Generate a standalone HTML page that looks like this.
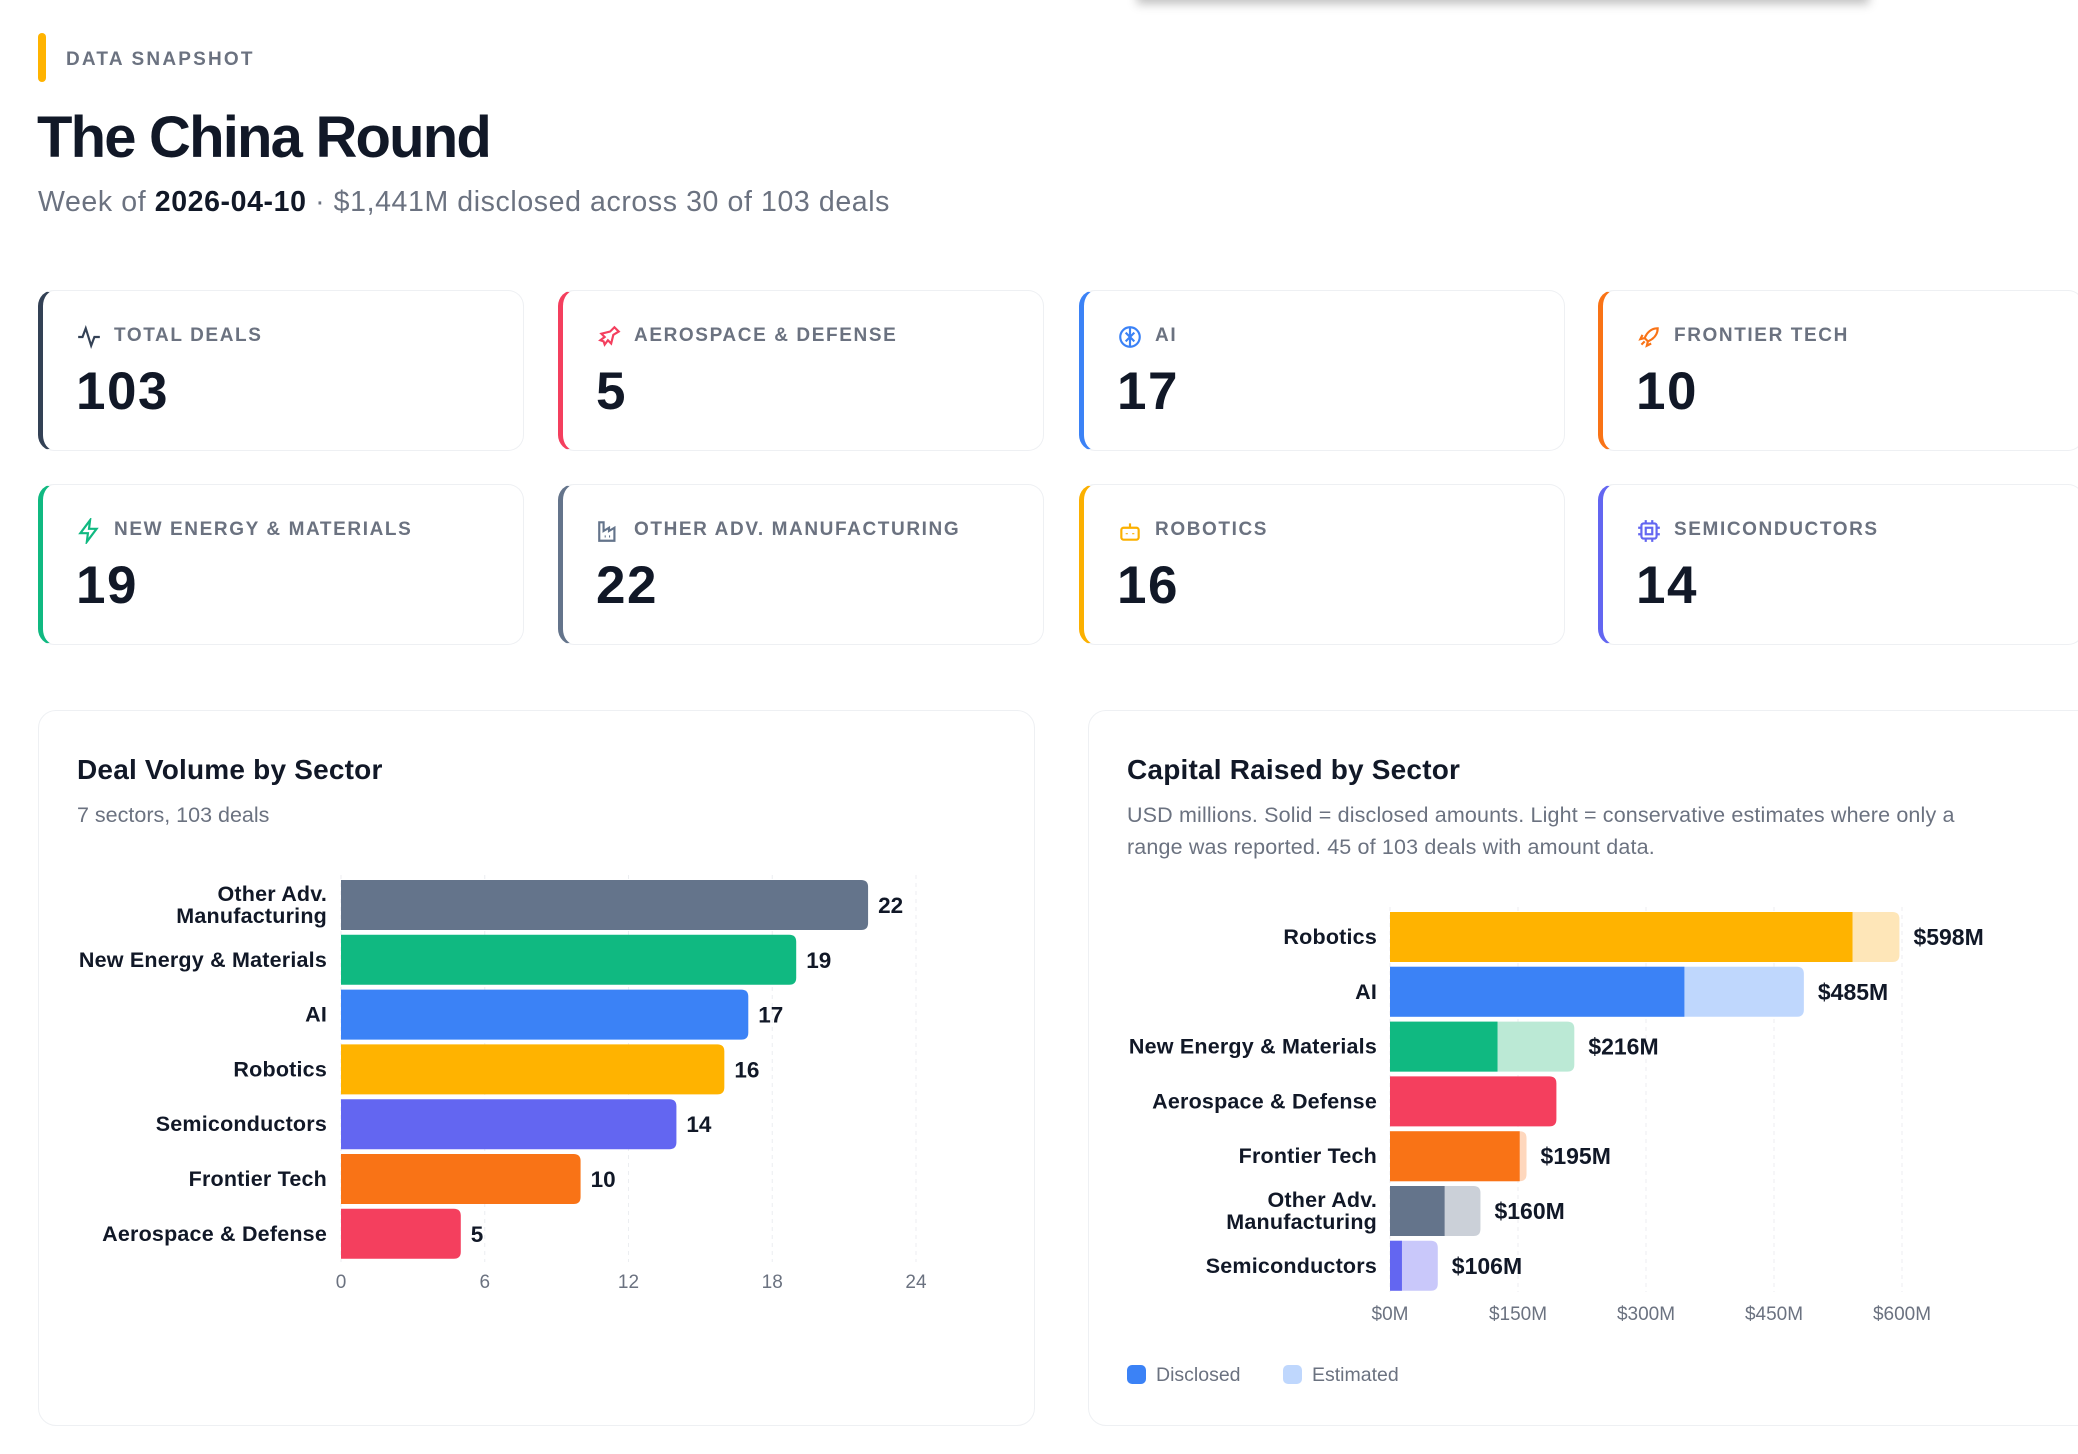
<!DOCTYPE html>
<html><head><meta charset="utf-8"><style>
*{box-sizing:border-box;margin:0;padding:0}
body{width:2078px;height:1454px;overflow:hidden;background:#fff;font-family:"Liberation Sans",sans-serif;color:#111827;position:relative}
.abs{position:absolute}
.card{position:absolute;width:486px;height:161px;border:1px solid #eef0f3;border-left:5px solid;border-radius:16px;background:#fff}
.card .lab{position:absolute;left:71px;top:34px;font-size:19px;font-weight:700;letter-spacing:1.6px;color:#6b7280;white-space:nowrap}
.card svg{position:absolute;left:33px;top:33px}
.card .num{position:absolute;left:33px;top:70px;font-size:53px;font-weight:700;color:#111827;letter-spacing:1.5px}
.panel{position:absolute;border:1px solid #eef0f3;border-radius:18px;background:#fff}
.ptitle{position:absolute;font-size:28px;font-weight:700;color:#111827}
.psub{position:absolute;font-size:21.5px;color:#6b7280;line-height:32px}
</style></head><body>
<div class="abs" style="left:1137px;top:-30px;width:732px;height:30px;box-shadow:0 4px 10px rgba(0,0,0,0.25);background:#fff"></div>
<div class="abs" style="left:38px;top:33px;width:8px;height:49px;background:#ffb300;border-radius:4px"></div>
<div class="abs" style="left:66px;top:49px;font-size:19px;font-weight:700;letter-spacing:2.2px;color:#6b7280">DATA SNAPSHOT</div>
<div class="abs" style="left:37px;top:104px;font-size:58px;font-weight:700;letter-spacing:-1.8px;color:#111827">The China Round</div>
<div class="abs" style="left:38px;top:186px;font-size:28.5px;color:#6b7280;letter-spacing:0.6px">Week of <b style="color:#111827">2026-04-10</b> · $1,441M disclosed across 30 of 103 deals</div>

<div class="card" style="left:38px;top:290px;border-left-color:#334155"><svg width="26" height="26" viewBox="0 0 24 24" fill="none" stroke="#334155" stroke-width="2"><path d="M2 12h4l3-8 5 16 3-8h5"/></svg><div class="lab">TOTAL DEALS</div><div class="num">103</div></div>
<div class="card" style="left:558px;top:290px;border-left-color:#f43f5e"><svg width="26" height="26" viewBox="0 0 24 24" fill="none" stroke="#f43f5e" stroke-width="2"><path d="M17 3l4 4-5 3-2 8-3-3-3 4-1-3-3-1 4-3-3-3 8-2z"/></svg><div class="lab">AEROSPACE &amp; DEFENSE</div><div class="num">5</div></div>
<div class="card" style="left:1079px;top:290px;border-left-color:#3b82f6"><svg width="26" height="26" viewBox="0 0 24 24" fill="none" stroke="#3b82f6" stroke-width="2"><circle cx="12" cy="12" r="9"/><path d="M12 3v18M8 8l4 4 4-4M8 16l4-4 4 4"/></svg><div class="lab">AI</div><div class="num">17</div></div>
<div class="card" style="left:1598px;top:290px;border-left-color:#f97316"><svg width="26" height="26" viewBox="0 0 24 24" fill="none" stroke="#f97316" stroke-width="2"><path d="M20 4c-6 0-10 4-12 9l3 3c5-2 9-6 9-12zM8 13l-4 1 2-4M11 16l-1 4 4-2M5 19l3-3"/></svg><div class="lab">FRONTIER TECH</div><div class="num">10</div></div>
<div class="card" style="left:38px;top:484px;border-left-color:#10b981"><svg width="26" height="26" viewBox="0 0 24 24" fill="none" stroke="#10b981" stroke-width="2"><path d="M13 2L4 14h7l-1 8 9-12h-7z"/></svg><div class="lab">NEW ENERGY &amp; MATERIALS</div><div class="num">19</div></div>
<div class="card" style="left:558px;top:484px;border-left-color:#64748b"><svg width="26" height="26" viewBox="0 0 24 24" fill="none" stroke="#64748b" stroke-width="2"><path d="M3 21V4h4v8l5-3v3l5-3v12zM8 17h1M12 17h1M16 17h1"/></svg><div class="lab">OTHER ADV. MANUFACTURING</div><div class="num">22</div></div>
<div class="card" style="left:1079px;top:484px;border-left-color:#fbb000"><svg width="26" height="26" viewBox="0 0 24 24" fill="none" stroke="#fbb000" stroke-width="2"><rect x="4" y="9" width="16" height="11" rx="2"/><path d="M12 9V5M9 14v1M15 14v1"/></svg><div class="lab">ROBOTICS</div><div class="num">16</div></div>
<div class="card" style="left:1598px;top:484px;border-left-color:#6366f1"><svg width="26" height="26" viewBox="0 0 24 24" fill="none" stroke="#6366f1" stroke-width="2"><rect x="5" y="5" width="14" height="14" rx="2"/><rect x="9" y="9" width="6" height="6"/><path d="M9 2v3M15 2v3M9 19v3M15 19v3M2 9h3M2 15h3M19 9h3M19 15h3"/></svg><div class="lab">SEMICONDUCTORS</div><div class="num">14</div></div>

<div class="panel" style="left:38px;top:710px;width:997px;height:716px"></div>
<div class="ptitle" style="left:77px;top:754px;letter-spacing:0.2px">Deal Volume by Sector</div>
<div class="psub" style="left:77px;top:799px">7 sectors, 103 deals</div>

<div class="panel" style="left:1088px;top:710px;width:1010px;height:716px"></div>
<div class="ptitle" style="left:1127px;top:754px;letter-spacing:0.2px">Capital Raised by Sector</div>
<div class="psub" style="left:1127px;top:799px;width:880px;letter-spacing:0.15px">USD millions. Solid = disclosed amounts. Light = conservative estimates where only a range was reported. 45 of 103 deals with amount data.</div>
<div class="abs" style="left:1127px;top:1364px;font-size:19.5px;color:#6b7280"><span style="display:inline-block;width:19px;height:19px;border-radius:5px;background:#3b82f6;vertical-align:-3px;margin-right:10px"></span>Disclosed</div>
<div class="abs" style="left:1283px;top:1364px;font-size:19.5px;color:#6b7280"><span style="display:inline-block;width:19px;height:19px;border-radius:5px;background:#bfd7fd;vertical-align:-3px;margin-right:10px"></span>Estimated</div>

<svg id="c1" class="abs" style="left:0;top:0" width="2078" height="1454"></svg>
<script>
const volCats=["Other Adv.|Manufacturing","New Energy & Materials","AI","Robotics","Semiconductors","Frontier Tech","Aerospace & Defense"];
const volVals=[22,19,17,16,14,10,5];
const volColors=["#64748b","#10b981","#3b82f6","#ffb300","#6366f1","#f97316","#f43f5e"];
const volTicks=[0,6,12,18,24];
const capCats=["Robotics","AI","New Energy & Materials","Aerospace & Defense","Frontier Tech","Other Adv.|Manufacturing","Semiconductors"];
const capDisclosed=[542,345,126,195,152,64,14];
const capEstimated=[55,140,90,0,8,42,42];
const capLabels=["$598M","$485M","$216M","","$195M","$160M","$106M"];
const capColors=["#ffb300","#3b82f6","#10b981","#f43f5e","#f97316","#64748b","#6366f1"];
const capLight=["#fee6b8","#bfd7fd","#bbe9d5","#fbc8d2","#fed7bd","#cbd0d8","#c9c8fa"];
const capTicks=[0,150,300,450,600];
const capTickLabels=["$0M","$150M","$300M","$450M","$600M"];
const NS="http://www.w3.org/2000/svg";
const svg=document.getElementById('c1');
function mk(t,a){const e=document.createElementNS(NS,t);for(const k in a)e.setAttribute(k,a[k]);svg.appendChild(e);return e;}
function barPath(x,y,w,h,r){r=Math.min(r,w);return `M${x},${y}H${x+w-r}Q${x+w},${y} ${x+w},${y+r}V${y+h-r}Q${x+w},${y+h} ${x+w-r},${y+h}H${x}Z`;}
function catLabel(txt,x,cy,name){const parts=txt.split('|');const t=mk('text',{x:x,y:cy+7-(parts.length-1)*11,'text-anchor':'end','font-size':21.5,'font-weight':700,fill:'#111827','letter-spacing':0.2});


parts.forEach((p,i)=>{const s=document.createElementNS(NS,'tspan');s.setAttribute('x',x);if(i>0)s.setAttribute('dy',22);s.textContent=p;t.appendChild(s);});}
// chart 1
const x1=v=>341+v*(916-341)/24, y1=i=>905+i*54.8, bh=50;
volTicks.forEach(v=>{const l=mk('line',{x1:x1(v),x2:x1(v),y1:875,y2:1262,stroke:'#eceef1','stroke-dasharray':'4 4'});


const t=mk('text',{x:x1(v),y:1288,'text-anchor':'middle','font-size':19,fill:'#6b7280'});t.textContent=v;

});
volVals.forEach((v,i)=>{const cy=y1(i);const p=mk('path',{d:barPath(x1(0),cy-bh/2,x1(v)-x1(0),bh,7),fill:volColors[i]});


catLabel(volCats[i],327,cy,'volume-category-label');
const t=mk('text',{x:x1(v)+10,y:cy+8,'font-size':22.5,'font-weight':700,fill:'#111827'});t.textContent=v;

});
// chart 2
const x2=v=>1390+v*(1902-1390)/600, y2=i=>937+i*54.8;
capTicks.forEach((v,i)=>{const l=mk('line',{x1:x2(v),x2:x2(v),y1:907,y2:1292,stroke:'#eceef1','stroke-dasharray':'4 4'});


const t=mk('text',{x:x2(v),y:1320,'text-anchor':'middle','font-size':19,fill:'#6b7280'});t.textContent=capTickLabels[i];

});
capDisclosed.forEach((d,i)=>{const cy=y2(i);const tot=d+capEstimated[i];
if(capEstimated[i]>0){const e=mk('path',{d:barPath(x2(0),cy-bh/2,x2(tot)-x2(0),bh,7),fill:capLight[i]});

}
const r=capEstimated[i]>0?0:7;
const p=mk('path',{d:barPath(x2(0),cy-bh/2,x2(d)-x2(0),bh,r),fill:capColors[i]});


catLabel(capCats[i],1377,cy,'capital-category-label');
const t=mk('text',{x:x2(tot)+14,y:cy+8,'font-size':23,'font-weight':700,fill:'#111827'});t.textContent=capLabels[i];

});
</script>
</body></html>
